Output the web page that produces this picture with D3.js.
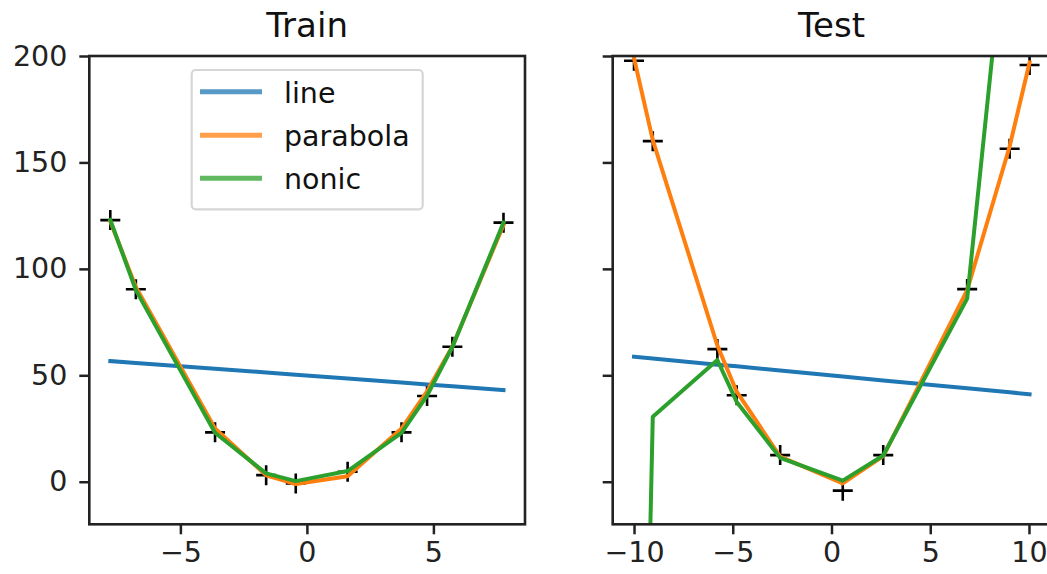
<!DOCTYPE html>
<html>
<head>
<meta charset="utf-8">
<script src="https://cdn.jsdelivr.net/npm/d3@7"></script>
<style>
  html, body { margin: 0; padding: 0; background: #fff; }
  svg { display: block; font-family: "DejaVu Sans", sans-serif; }
</style>
</head>
<body>
<svg id="chart" width="1047" height="574"></svg>
<script>
// ---- data ----
const seriesNames = ["line", "parabola", "nonic"];
const seriesColors = ["#1f77b4", "#ff7f0e", "#2ca02c"];

const trainX        = [-7.77, -6.76, -3.63, -1.61, -0.44, 1.61, 3.74, 4.75, 5.75, 7.77];
const trainY        = [122.9, 90.4, 23.2, 3.1, -0.8, 4.7, 23.2, 40.3, 63.4, 121.7];
const trainLine     = [56.7, 55.8, 53.1, 51.3, 50.3, 48.5, 46.6, 45.7, 44.9, 43.1];
const trainParabola = [122.3, 91.5, 25.0, 3.0, -1.1, 2.6, 25.0, 42.5, 63.5, 120.6];
const trainNonic    = [123.0, 90.0, 23.0, 3.9, 0.3, 5.0, 23.0, 40.5, 63.3, 121.7];

const testX        = [-10.0, -9.05, -5.78, -4.8, -2.6, 0.57, 2.62, 6.87, 9.02, 10.03];
const testY        = [197.8, 160.0, 62.3, 40.6, 12.5, -4.2, 12.5, 90.5, 156.4, 195.8];
const testLine     = [58.7, 57.9, 55.0, 54.2, 52.2, 49.4, 47.6, 43.9, 42.0, 41.1];
const testParabola = [199.0, 160.5, 64.0, 42.3, 11.8, -0.8, 12.0, 90.0, 157.5, 197.0];
const testNonic    = [-365.0, 30.5, 57.2, 37.5, 11.2, 0.5, 12.3, 86.0, 279.0, 600.0];

const yTicks = [0, 50, 100, 150, 200];
const trainXTicks = [-5, 0, 5];
const testXTicks = [-10, -5, 0, 5, 10];
const titles = ["Train", "Test"];

// ---- layout ----
const svg = d3.select("#chart");
const yScale = d3.scaleLinear().domain([-20, 200]).range([524.3, 56]);
const panels = [
  { title: titles[0], x: d3.scaleLinear().domain([-8.6, 8.62]).range([89.3, 525]),
    xs: trainX, ys: trainY, fits: [trainLine, trainParabola, trainNonic],
    xTicks: trainXTicks, yLabels: true, legend: true },
  { title: titles[1], x: d3.scaleLinear().domain([-11.08, 11.08]).range([612.7, 1050.3]),
    xs: testX, ys: testY, fits: [testLine, testParabola, testNonic],
    xTicks: testXTicks, yLabels: false, legend: false }
];

const fmt = v => (v < 0 ? "\u2212" + Math.abs(v) : String(v));
const axisColor = "#222";

panels.forEach((p, i) => {
  const [x0, x1] = p.x.range();
  const [yb, yt] = yScale.range();
  const g = svg.append("g");

  const clipId = "clip" + i;
  svg.append("defs").append("clipPath").attr("id", clipId)
    .append("rect").attr("x", x0).attr("y", yt).attr("width", x1 - x0).attr("height", yb - yt);

  // x axis
  const xAxis = d3.axisBottom(p.x).tickValues(p.xTicks).tickFormat(fmt)
    .tickSize(10).tickPadding(7);
  const gx = g.append("g").attr("transform", `translate(0,${yb})`).call(xAxis);
  gx.select(".domain").remove();
  gx.selectAll(".tick line").attr("stroke", axisColor).attr("stroke-width", 2.5);
  gx.selectAll(".tick text").attr("fill", axisColor).attr("font-size", 28.5)
    .attr("font-family", "DejaVu Sans");

  // y axis
  const yAxis = d3.axisLeft(yScale).tickValues(yTicks)
    .tickFormat(p.yLabels ? (d => String(d)) : (() => ""))
    .tickSize(10).tickPadding(12);
  const gy = g.append("g").attr("transform", `translate(${x0},0)`).call(yAxis);
  gy.select(".domain").remove();
  gy.selectAll(".tick line").attr("stroke", axisColor).attr("stroke-width", 2.5);
  gy.selectAll(".tick text").attr("fill", axisColor).attr("font-size", 28.5)
    .attr("font-family", "DejaVu Sans");

  // data markers (under the lines)
  const plot = g.append("g").attr("clip-path", `url(#${clipId})`);
  plot.selectAll("path.pt").data(p.xs.map((xv, k) => [xv, p.ys[k]]))
    .enter().append("path").attr("class", "pt")
    .attr("transform", d => `translate(${p.x(d[0])},${yScale(d[1])})`)
    .attr("d", "M-10,0H10M0,-10V10")
    .attr("stroke", "#000").attr("stroke-width", 2.6).attr("fill", "none");

  // fitted lines
  const line = d3.line().x(d => p.x(d[0])).y(d => yScale(d[1]));
  p.fits.forEach((vals, s) => {
    plot.append("path")
      .datum(p.xs.map((xv, k) => [xv, vals[k]]))
      .attr("d", line)
      .attr("fill", "none")
      .attr("stroke", seriesColors[s])
      .attr("stroke-width", 4)
      .attr("stroke-linecap", "square")
      .attr("stroke-linejoin", "round");
  });

  // frame
  g.append("rect").attr("x", x0).attr("y", yt).attr("width", x1 - x0).attr("height", yb - yt)
    .attr("fill", "none").attr("stroke", axisColor).attr("stroke-width", 2.6);

  // title
  g.append("text").attr("x", (x0 + x1) / 2).attr("y", 37)
    .attr("text-anchor", "middle").attr("font-size", 34).attr("fill", "#111")
    .text(p.title);

  // legend
  if (p.legend) {
    const lg = g.append("g");
    lg.append("rect").attr("x", 191.7).attr("y", 70).attr("width", 231).attr("height", 139.3)
      .attr("rx", 4).attr("fill", "#fff").attr("fill-opacity", 0.8)
      .attr("stroke", "#d6d6d6").attr("stroke-width", 2.2);
    const rowY = [91.7, 135.3, 178.3];
    seriesNames.forEach((name, s) => {
      lg.append("line").attr("x1", 200).attr("x2", 262).attr("y1", rowY[s]).attr("y2", rowY[s])
        .attr("stroke", seriesColors[s]).attr("stroke-opacity", 0.75)
        .attr("stroke-width", 5).attr("stroke-linecap", "butt");
      lg.append("text").attr("x", 284).attr("y", rowY[s] + 11)
        .attr("font-size", 28.5).attr("fill", "#111").text(name);
    });
  }
});
</script>
</body>
</html>
